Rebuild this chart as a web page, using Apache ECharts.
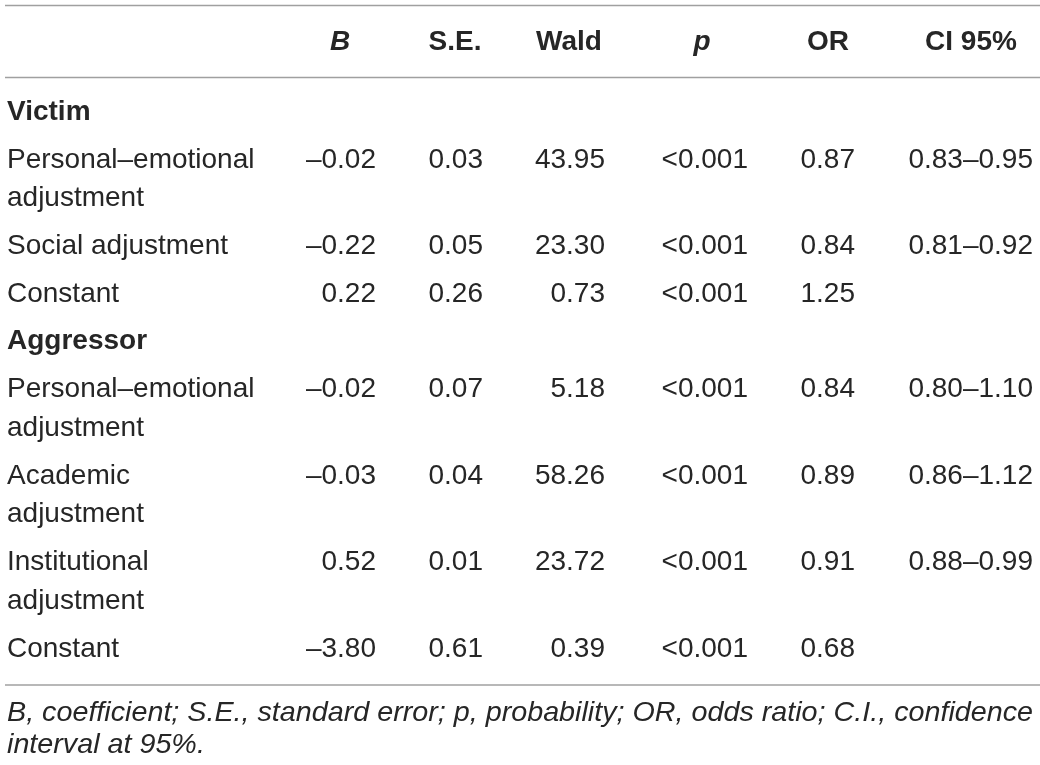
<!DOCTYPE html>
<html>
<head>
<meta charset="utf-8">
<script src="https://cdn.jsdelivr.net/npm/echarts@6/dist/echarts.min.js"></script>
<style>
html,body{margin:0;padding:0;background:#fff;}
#chart{width:1040px;height:765px;}
</style>
</head>
<body>
<div id="chart"></div>
<script>
// ---- data ----
const headers = ['B', 'S.E.', 'Wald', 'p', 'OR', 'CI 95%'];
const groups = ['Victim', 'Aggressor'];
const victimLabels = [['Personal–emotional', 'adjustment'], ['Social adjustment'], ['Constant']];
const victimB    = ['–0.02', '–0.22', '0.22'];
const victimSE   = ['0.03', '0.05', '0.26'];
const victimWald = ['43.95', '23.30', '0.73'];
const victimP    = ['<0.001', '<0.001', '<0.001'];
const victimOR   = ['0.87', '0.84', '1.25'];
const victimCI   = ['0.83–0.95', '0.81–0.92', ''];
const aggLabels = [['Personal–emotional', 'adjustment'], ['Academic', 'adjustment'], ['Institutional', 'adjustment'], ['Constant']];
const aggB    = ['–0.02', '–0.03', '0.52', '–3.80'];
const aggSE   = ['0.07', '0.04', '0.01', '0.61'];
const aggWald = ['5.18', '58.26', '23.72', '0.39'];
const aggP    = ['<0.001', '<0.001', '<0.001', '<0.001'];
const aggOR   = ['0.84', '0.89', '0.91', '0.68'];
const aggCI   = ['0.80–1.10', '0.86–1.12', '0.88–0.99', ''];
const footnoteLines = [
  'B, coefficient; S.E., standard error; p, probability; OR, odds ratio; C.I., confidence',
  'interval at 95%.'
];

// ---- layout ----
const FAMILY = 'Liberation Sans';
const FS = 28;
const TEXT = '#262626';
const LINE = '#a0a0a0';
const colX = [376, 483, 605, 748, 855, 1033];          // right edges of value columns
const headX = [340, 455, 569, 702, 828, 971];           // header centres
const headItalic = [true, false, false, true, false, false];
const labelX = 7;
const headerY = 42;
const firstRowY = 112;
const rowStep = 48;
const lineStep = 38.5;

const els = [];
function txt(s, x, y, opts) {
  opts = opts || {};
  els.push({
    type: 'text',
    silent: true,
    x: x, y: y,
    scaleX: opts.scaleX || 1,
    style: {
      text: s,
      x: 0, y: 0,
      fill: opts.fill || TEXT,
      textAlign: opts.align || 'left',
      textVerticalAlign: 'middle',
      fontFamily: FAMILY,
      fontSize: FS,
      fontWeight: opts.bold ? 'bold' : 'normal',
      fontStyle: opts.italic ? 'italic' : 'normal'
    }
  });
}
function hline(y) {
  els.push({ type: 'line', silent: true, shape: { x1: 5, y1: y, x2: 1040, y2: y }, style: { stroke: LINE, lineWidth: 1.4 } });
}

hline(5.5);
hline(77.5);
hline(685);

headers.forEach((h, i) => txt(h, headX[i], headerY, { align: 'center', bold: true, italic: headItalic[i] }));

let y = firstRowY;
const blocks = [
  [groups[0], victimLabels, [victimB, victimSE, victimWald, victimP, victimOR, victimCI]],
  [groups[1], aggLabels, [aggB, aggSE, aggWald, aggP, aggOR, aggCI]]
];
blocks.forEach(([g, labels, cols]) => {
  txt(g, labelX, y, { bold: true });
  y += rowStep;
  labels.forEach((lines, r) => {
    lines.forEach((l, k) => txt(l, labelX, y + k * lineStep, {}));
    cols.forEach((c, ci) => { if (c[r]) txt(c[r], colX[ci], y, { align: 'right' }); });
    y += rowStep + (lines.length - 1) * lineStep;
  });
  y -= 1;
});

// footnote (condensed italic: fit first line to the table width)
const cv = document.createElement('canvas').getContext('2d');
cv.font = 'italic ' + FS + 'px "' + FAMILY + '"';
const w0 = cv.measureText(footnoteLines[0]).width;
const sx = (1033 - labelX) / w0;
txt(footnoteLines[0], labelX, 713, { italic: true, scaleX: sx });
txt(footnoteLines[1], labelX, 745, { italic: true, scaleX: sx });

const chart = echarts.init(document.getElementById('chart'), null, { renderer: 'canvas' });
chart.setOption({
  animation: false,
  backgroundColor: '#ffffff',
  graphic: { elements: els }
});
</script>
</body>
</html>
